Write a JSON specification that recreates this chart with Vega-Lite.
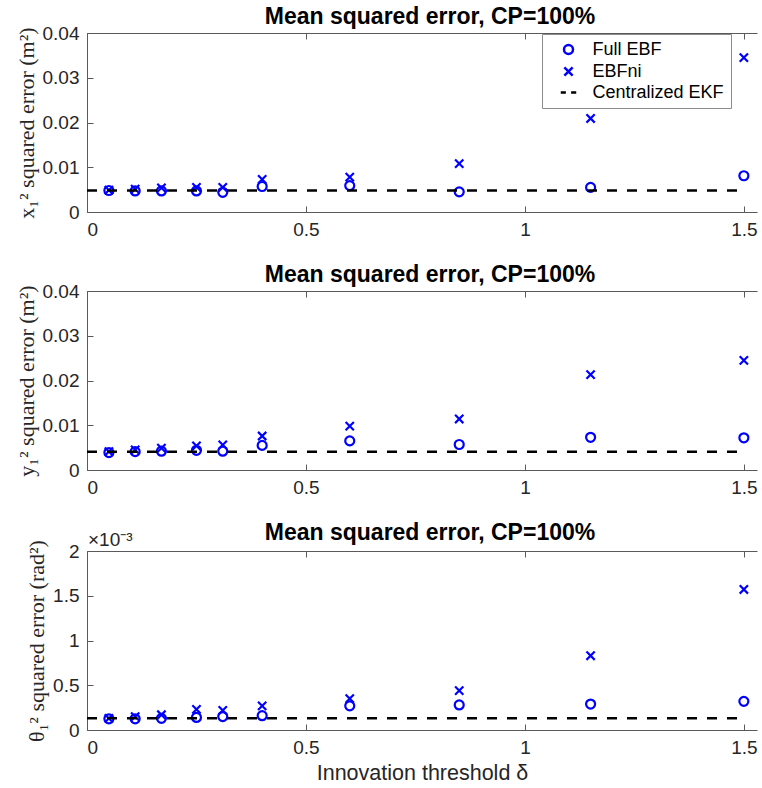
{
  "$schema": "https://vega.github.io/schema/vega-lite/v6.json",
  "padding": {"left": 15, "top": 6, "right": 0, "bottom": 0},
  "spacing": 25,
  "datasets": {
    "mse": [
      {"panel": 1, "delta": 0.05, "series": "Full EBF", "value": 0.0048},
      {"panel": 1, "delta": 0.11, "series": "Full EBF", "value": 0.0047},
      {"panel": 1, "delta": 0.17, "series": "Full EBF", "value": 0.0047},
      {"panel": 1, "delta": 0.25, "series": "Full EBF", "value": 0.0047},
      {"panel": 1, "delta": 0.31, "series": "Full EBF", "value": 0.0044},
      {"panel": 1, "delta": 0.4, "series": "Full EBF", "value": 0.0057},
      {"panel": 1, "delta": 0.6, "series": "Full EBF", "value": 0.0059},
      {"panel": 1, "delta": 0.85, "series": "Full EBF", "value": 0.0045},
      {"panel": 1, "delta": 1.15, "series": "Full EBF", "value": 0.0055},
      {"panel": 1, "delta": 1.5, "series": "Full EBF", "value": 0.0081},
      {"panel": 1, "delta": 0.05, "series": "EBFni", "value": 0.0049},
      {"panel": 1, "delta": 0.11, "series": "EBFni", "value": 0.0051},
      {"panel": 1, "delta": 0.17, "series": "EBFni", "value": 0.0054},
      {"panel": 1, "delta": 0.25, "series": "EBFni", "value": 0.0055},
      {"panel": 1, "delta": 0.31, "series": "EBFni", "value": 0.0055},
      {"panel": 1, "delta": 0.4, "series": "EBFni", "value": 0.0073},
      {"panel": 1, "delta": 0.6, "series": "EBFni", "value": 0.0078},
      {"panel": 1, "delta": 0.85, "series": "EBFni", "value": 0.0108},
      {"panel": 1, "delta": 1.15, "series": "EBFni", "value": 0.0209},
      {"panel": 1, "delta": 1.5, "series": "EBFni", "value": 0.0345},
      {"panel": 1, "delta": 0, "series": "Centralized EKF", "value": 0.0048},
      {"panel": 1, "delta": 1.5, "series": "Centralized EKF", "value": 0.0048},
      {"panel": 2, "delta": 0.05, "series": "Full EBF", "value": 0.0039},
      {"panel": 2, "delta": 0.11, "series": "Full EBF", "value": 0.0041},
      {"panel": 2, "delta": 0.17, "series": "Full EBF", "value": 0.0042},
      {"panel": 2, "delta": 0.25, "series": "Full EBF", "value": 0.0044},
      {"panel": 2, "delta": 0.31, "series": "Full EBF", "value": 0.0042},
      {"panel": 2, "delta": 0.4, "series": "Full EBF", "value": 0.0055},
      {"panel": 2, "delta": 0.6, "series": "Full EBF", "value": 0.0065},
      {"panel": 2, "delta": 0.85, "series": "Full EBF", "value": 0.0057},
      {"panel": 2, "delta": 1.15, "series": "Full EBF", "value": 0.0073},
      {"panel": 2, "delta": 1.5, "series": "Full EBF", "value": 0.0072},
      {"panel": 2, "delta": 0.05, "series": "EBFni", "value": 0.0041},
      {"panel": 2, "delta": 0.11, "series": "EBFni", "value": 0.0045},
      {"panel": 2, "delta": 0.17, "series": "EBFni", "value": 0.0049},
      {"panel": 2, "delta": 0.25, "series": "EBFni", "value": 0.0054},
      {"panel": 2, "delta": 0.31, "series": "EBFni", "value": 0.0056},
      {"panel": 2, "delta": 0.4, "series": "EBFni", "value": 0.0076},
      {"panel": 2, "delta": 0.6, "series": "EBFni", "value": 0.0098},
      {"panel": 2, "delta": 0.85, "series": "EBFni", "value": 0.0114},
      {"panel": 2, "delta": 1.15, "series": "EBFni", "value": 0.0213},
      {"panel": 2, "delta": 1.5, "series": "EBFni", "value": 0.0245},
      {"panel": 2, "delta": 0, "series": "Centralized EKF", "value": 0.0041},
      {"panel": 2, "delta": 1.5, "series": "Centralized EKF", "value": 0.0041},
      {"panel": 3, "delta": 0.05, "series": "Full EBF", "value": 0.125},
      {"panel": 3, "delta": 0.11, "series": "Full EBF", "value": 0.125},
      {"panel": 3, "delta": 0.17, "series": "Full EBF", "value": 0.13},
      {"panel": 3, "delta": 0.25, "series": "Full EBF", "value": 0.14},
      {"panel": 3, "delta": 0.31, "series": "Full EBF", "value": 0.15},
      {"panel": 3, "delta": 0.4, "series": "Full EBF", "value": 0.16},
      {"panel": 3, "delta": 0.6, "series": "Full EBF", "value": 0.27},
      {"panel": 3, "delta": 0.85, "series": "Full EBF", "value": 0.28},
      {"panel": 3, "delta": 1.15, "series": "Full EBF", "value": 0.29},
      {"panel": 3, "delta": 1.5, "series": "Full EBF", "value": 0.32},
      {"panel": 3, "delta": 0.05, "series": "EBFni", "value": 0.13},
      {"panel": 3, "delta": 0.11, "series": "EBFni", "value": 0.15},
      {"panel": 3, "delta": 0.17, "series": "EBFni", "value": 0.17},
      {"panel": 3, "delta": 0.25, "series": "EBFni", "value": 0.23},
      {"panel": 3, "delta": 0.31, "series": "EBFni", "value": 0.22},
      {"panel": 3, "delta": 0.4, "series": "EBFni", "value": 0.27},
      {"panel": 3, "delta": 0.6, "series": "EBFni", "value": 0.35},
      {"panel": 3, "delta": 0.85, "series": "EBFni", "value": 0.44},
      {"panel": 3, "delta": 1.15, "series": "EBFni", "value": 0.83},
      {"panel": 3, "delta": 1.5, "series": "EBFni", "value": 1.57},
      {"panel": 3, "delta": 0, "series": "Centralized EKF", "value": 0.13},
      {"panel": 3, "delta": 1.5, "series": "Centralized EKF", "value": 0.13}
    ]
  },
  "config": {
    "view": {"stroke": null},
    "font": "Liberation Sans",
    "axis": {
      "grid": false,
      "labelFont": "Liberation Sans",
      "labelFontSize": 19,
      "labelColor": "#262626",
      "domainColor": "#5a5a5a",
      "tickColor": "#5a5a5a",
      "tickSize": -6,
      "labelPadding": 14,
      "format": "~g",
      "titleFont": "Liberation Serif",
      "titleFontWeight": "normal",
      "titleFontSize": 22,
      "titleColor": "#262626"
    },
    "title": {"font": "Liberation Sans", "fontSize": 23, "fontWeight": "bold", "color": "#000000", "offset": -5, "dx": 8}
  },
  "resolve": {"scale": {"color": "independent", "shape": "independent", "size": "independent"}, "legend": {"color": "independent", "shape": "independent", "size": "independent"}},
  "vconcat": [
    {
      "width": 670, "height": 179,
      "title": "Mean squared error, CP=100%",
      "data": {"name": "mse"},
      "transform": [{"filter": "datum.panel == 1"}],
      "layer": [
        {
          "transform": [{"filter": "datum.series != 'Centralized EKF'"}],
          "mark": {"type": "point", "filled": false, "strokeWidth": 2.2, "opacity": 1},
          "encoding": {
            "x": {"field": "delta", "type": "quantitative", "scale": {"domain": [0, 1.53], "nice": false, "zero": false}, "axis": {"orient": "bottom", "values": [0, 0.5, 1, 1.5], "title": null}},
            "y": {"field": "value", "type": "quantitative", "scale": {"domain": [0, 0.04], "nice": false}, "axis": {"orient": "left", "values": [0, 0.01, 0.02, 0.03, 0.04], "title": "x₁² squared error (m²)", "titlePadding": 4}},
            "color": {"field": "series", "type": "nominal", "scale": {"domain": ["Full EBF", "EBFni", "Centralized EKF"], "range": ["#0000ff", "#0000ff", "#000000"]}, "legend": {"orient": "none", "legendX": 455, "legendY": 1, "title": null, "labelFont": "Liberation Sans", "labelFontSize": 18, "labelColor": "#000000", "strokeColor": "#8c8c8c", "fillColor": "#ffffff", "padding": 6.5, "rowPadding": 2, "symbolOffset": 11, "labelOffset": 15, "symbolStrokeWidth": 2.5}},
            "shape": {"field": "series", "type": "nominal", "scale": {"domain": ["Full EBF", "EBFni", "Centralized EKF"], "range": ["circle", "M-1,-1L1,1M-1,1L1,-1", "M-2.07,0H-0.7M0.7,0H2.07"]}},
            "size": {"field": "series", "type": "nominal", "scale": {"domain": ["Full EBF", "EBFni", "Centralized EKF"], "range": [81, 56, 196]}}
          }
        },
        {
          "transform": [{"filter": "datum.series == 'Centralized EKF'"}],
          "mark": {"type": "line", "color": "#000000", "strokeWidth": 2.5, "strokeDash": [10, 10]},
          "encoding": {
            "x": {"field": "delta", "type": "quantitative", "axis": {"orient": "top", "values": [0, 0.5, 1, 1.5], "labels": false, "title": null}},
            "y": {"field": "value", "type": "quantitative", "axis": null}
          }
        }
      ],
      "resolve": {"axis": {"x": "independent", "y": "independent"}}
    },
    {
      "width": 670, "height": 179,
      "title": "Mean squared error, CP=100%",
      "data": {"name": "mse"},
      "transform": [{"filter": "datum.panel == 2"}],
      "layer": [
        {
          "transform": [{"filter": "datum.series != 'Centralized EKF'"}],
          "mark": {"type": "point", "filled": false, "strokeWidth": 2.2, "opacity": 1},
          "encoding": {
            "x": {"field": "delta", "type": "quantitative", "scale": {"domain": [0, 1.53], "nice": false, "zero": false}, "axis": {"orient": "bottom", "values": [0, 0.5, 1, 1.5], "title": null}},
            "y": {"field": "value", "type": "quantitative", "scale": {"domain": [0, 0.04], "nice": false}, "axis": {"orient": "left", "values": [0, 0.01, 0.02, 0.03, 0.04], "title": "y₁² squared error (m²)", "titlePadding": 4}},
            "color": {"field": "series", "type": "nominal", "scale": {"domain": ["Full EBF", "EBFni", "Centralized EKF"], "range": ["#0000ff", "#0000ff", "#000000"]}, "legend": null},
            "shape": {"field": "series", "type": "nominal", "scale": {"domain": ["Full EBF", "EBFni", "Centralized EKF"], "range": ["circle", "M-1,-1L1,1M-1,1L1,-1", "M-2.07,0H-0.7M0.7,0H2.07"]}, "legend": null},
            "size": {"field": "series", "type": "nominal", "scale": {"domain": ["Full EBF", "EBFni", "Centralized EKF"], "range": [81, 56, 196]}, "legend": null}
          }
        },
        {
          "transform": [{"filter": "datum.series == 'Centralized EKF'"}],
          "mark": {"type": "line", "color": "#000000", "strokeWidth": 2.5, "strokeDash": [10, 10]},
          "encoding": {
            "x": {"field": "delta", "type": "quantitative", "axis": {"orient": "top", "values": [0, 0.5, 1, 1.5], "labels": false, "title": null}},
            "y": {"field": "value", "type": "quantitative", "axis": null}
          }
        }
      ],
      "resolve": {"axis": {"x": "independent", "y": "independent"}}
    },
    {
      "width": 670, "height": 179,
      "title": {"text": "Mean squared error, CP=100%", "offset": -14},
      "data": {"name": "mse"},
      "transform": [{"filter": "datum.panel == 3"}],
      "layer": [
        {
          "transform": [{"filter": "datum.series != 'Centralized EKF'"}],
          "mark": {"type": "point", "filled": false, "strokeWidth": 2.2, "opacity": 1},
          "encoding": {
            "x": {"field": "delta", "type": "quantitative", "scale": {"domain": [0, 1.53], "nice": false, "zero": false}, "axis": {"orient": "bottom", "values": [0, 0.5, 1, 1.5], "title": "Innovation threshold δ", "titleFont": "Liberation Sans", "titleFontSize": 21.5, "titlePadding": 5}},
            "y": {"field": "value", "type": "quantitative", "scale": {"domain": [0, 2], "nice": false}, "axis": {"orient": "left", "values": [0, 0.5, 1, 1.5, 2], "title": "θ₁² squared error (rad²)", "titlePadding": 4}},
            "color": {"field": "series", "type": "nominal", "scale": {"domain": ["Full EBF", "EBFni", "Centralized EKF"], "range": ["#0000ff", "#0000ff", "#000000"]}, "legend": null},
            "shape": {"field": "series", "type": "nominal", "scale": {"domain": ["Full EBF", "EBFni", "Centralized EKF"], "range": ["circle", "M-1,-1L1,1M-1,1L1,-1", "M-2.07,0H-0.7M0.7,0H2.07"]}, "legend": null},
            "size": {"field": "series", "type": "nominal", "scale": {"domain": ["Full EBF", "EBFni", "Centralized EKF"], "range": [81, 56, 196]}, "legend": null}
          }
        },
        {
          "transform": [{"filter": "datum.series == 'Centralized EKF'"}],
          "mark": {"type": "line", "color": "#000000", "strokeWidth": 2.5, "strokeDash": [10, 10]},
          "encoding": {
            "x": {"field": "delta", "type": "quantitative", "axis": {"orient": "top", "values": [0, 0.5, 1, 1.5], "labels": false, "title": null}},
            "y": {"field": "value", "type": "quantitative", "axis": null}
          }
        },
        {
          "data": {"values": [{"label": "×10⁻³", "delta": 0, "value": 2}]},
          "mark": {"type": "text", "align": "left", "baseline": "alphabetic", "dx": 1, "dy": -5, "font": "Liberation Sans", "fontSize": 19, "color": "#262626"},
          "encoding": {
            "x": {"field": "delta", "type": "quantitative", "axis": null},
            "y": {"field": "value", "type": "quantitative", "axis": null},
            "text": {"field": "label"}
          }
        }
      ],
      "resolve": {"axis": {"x": "independent", "y": "independent"}}
    }
  ]
}
